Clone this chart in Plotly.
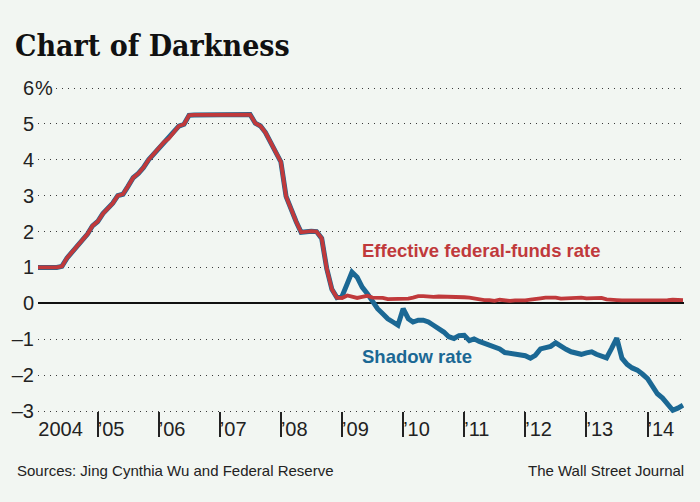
import pandas as pd
import plotly.graph_objects as go

# ---------------- data ----------------
months = pd.date_range("2004-01-01", periods=128, freq="MS")

fed_funds = [
    1.00, 1.01, 1.00, 1.00, 1.00, 1.03, 1.26, 1.43, 1.61, 1.76, 1.93, 2.16,  # 2004
    2.28, 2.50, 2.63, 2.79, 3.00, 3.04, 3.26, 3.50, 3.62, 3.78, 4.00, 4.16,  # 2005
    4.29, 4.49, 4.59, 4.79, 4.94, 4.99, 5.24, 5.25, 5.25, 5.25, 5.25, 5.24,  # 2006
    5.25, 5.26, 5.26, 5.25, 5.25, 5.25, 5.26, 5.02, 4.94, 4.76, 4.49, 4.24,  # 2007
    3.94, 2.98, 2.61, 2.28, 1.98, 2.00, 2.01, 2.00, 1.81, 0.97, 0.39, 0.16,  # 2008
    0.15, 0.22, 0.18, 0.15, 0.18, 0.21, 0.16, 0.16, 0.15, 0.12, 0.12, 0.12,  # 2009
    0.11, 0.13, 0.16, 0.20, 0.20, 0.18, 0.18, 0.19, 0.19, 0.19, 0.19, 0.18,  # 2010
    0.17, 0.16, 0.14, 0.10, 0.09, 0.09, 0.07, 0.10, 0.08, 0.07, 0.08, 0.07,  # 2011
    0.08, 0.10, 0.13, 0.14, 0.16, 0.16, 0.16, 0.13, 0.14, 0.16, 0.16, 0.16,  # 2012
    0.14, 0.15, 0.14, 0.15, 0.11, 0.09, 0.09, 0.08, 0.08, 0.09, 0.08, 0.09,  # 2013
    0.07, 0.07, 0.08, 0.09, 0.09, 0.10, 0.09, 0.09,                          # 2014
]

# shadow rate equals the funds rate until the zero bound is reached (end of 2008)
shadow_from_2009 = [
    0.20, 0.55, 0.87, 0.73, 0.45, 0.27, 0.04, -0.15, -0.29, -0.43, -0.52, -0.61,   # 2009
    -0.15, -0.43, -0.52, -0.47, -0.47, -0.52, -0.61, -0.70, -0.80, -0.93, -0.98, -0.90,  # 2010
    -0.89, -1.04, -0.99, -1.06, -1.12, -1.16, -1.22, -1.27, -1.37, -1.40, -1.42, -1.45,  # 2011
    -1.46, -1.53, -1.45, -1.27, -1.25, -1.20, -1.10, -1.20, -1.28, -1.35, -1.37, -1.42,  # 2012
    -1.38, -1.35, -1.42, -1.46, -1.52, -1.25, -0.97, -1.53, -1.70, -1.80, -1.86, -1.97,  # 2013
    -2.10, -2.32, -2.52, -2.64, -2.82, -2.98, -2.92, -2.84,                              # 2014
]
shadow_rate = fed_funds[:60] + shadow_from_2009

y_tickvals = [6, 5, 4, 3, 2, 1, 0, -1, -2, -3]
y_ticktext = ["6", "5", "4", "3", "2", "1", "0", "\u20131", "\u20132", "\u20133"]

x_label_vals = ["2004-01-12"] + ["%d-01-01" % y for y in range(2005, 2015)]
x_label_text = ["2004"] + ["\u2019%02d" % (y % 100) for y in range(2005, 2015)]
x_tick_vals = ["%d-01-01" % y for y in range(2005, 2015)]

# ---------------- style / layout constants ----------------
W, H = 700, 502
L, R, T = 36, 16, 84
plot_bottom = 437
paper_bottom = 446
BG = "#f2f6f2"
BLUE = "#1b6894"
RED = "#c0393b"
INK = "#222222"
SANS = "Liberation Sans, Arial, sans-serif"

ppu = (411 - 88) / 9.0
y_top = 6 + (88 - T) / ppu
y_bot = -3 - (plot_bottom - 411) / ppu
dom_bottom = (paper_bottom - plot_bottom) / (paper_bottom - T)


def px_x(x):
    return (x - L) / (W - L - R)


def px_y(y):
    return (paper_bottom - y) / (paper_bottom - T)


fig = go.Figure()

fig.add_trace(go.Scatter(
    x=months, y=shadow_rate, mode="lines",
    line=dict(color=BLUE, width=5), showlegend=False, hoverinfo="skip"))
fig.add_trace(go.Scatter(
    x=months, y=fed_funds, mode="lines",
    line=dict(color=RED, width=3.8), showlegend=False, hoverinfo="skip"))
# carrier trace for the tick-mark axis
fig.add_trace(go.Scatter(
    x=[months[0]], y=[None], xaxis="x2", yaxis="y", mode="lines",
    showlegend=False, hoverinfo="skip"))

x_range = ["2004-01-10", "2014-08-07"]

fig.update_layout(
    width=W, height=H,
    margin=dict(l=L, r=R, t=T, b=H - paper_bottom, pad=0),
    paper_bgcolor=BG, plot_bgcolor=BG,
    showlegend=False,
    xaxis=dict(
        range=x_range, anchor="free", position=0,
        tickmode="array", tickvals=x_label_vals, ticktext=x_label_text,
        ticks="", showgrid=False, zeroline=False, showline=False,
        ticklabelposition="inside right",
        tickfont=dict(family=SANS, size=20, color=INK),
    ),
    xaxis2=dict(
        range=x_range, overlaying="x", anchor="y", matches="x",
        tickmode="array", tickvals=x_tick_vals, showticklabels=False,
        ticks="inside", ticklen=25, tickwidth=1.6, tickcolor=INK,
        showgrid=False, zeroline=False, showline=False,
    ),
    yaxis=dict(
        range=[y_bot, y_top], domain=[dom_bottom, 1],
        tickmode="array", tickvals=y_tickvals, ticktext=y_ticktext,
        ticks="", ticklabelstandoff=3,
        tickfont=dict(family=SANS, size=20, color=INK),
        showgrid=True, gridcolor="#3a3a3a", gridwidth=1.4, griddash="1.4px,4.6px",
        zeroline=True, zerolinecolor="#111111", zerolinewidth=1.6,
        showline=False,
    ),
    annotations=[
        dict(text="%", xref="paper", yref="y", x=px_x(32), y=6, xanchor="left",
             yanchor="middle", showarrow=False, bgcolor=BG, borderpad=0,
             font=dict(family=SANS, size=20, color=INK)),
        dict(text="<b>Chart of Darkness</b>", xref="paper", yref="paper",
             x=px_x(11), y=px_y(46), xanchor="left", yanchor="middle", showarrow=False,
             font=dict(family="DejaVu Serif Condensed, DejaVu Serif, serif", size=30, color="#111111")),
        dict(text="<b>Effective federal-funds rate</b>", xref="paper", yref="paper",
             x=px_x(359), y=px_y(250), xanchor="left", yanchor="middle", showarrow=False,
             font=dict(family=SANS, size=18.5, color=RED)),
        dict(text="<b>Shadow rate</b>", xref="paper", yref="paper",
             x=px_x(359), y=px_y(356), xanchor="left", yanchor="middle", showarrow=False,
             font=dict(family=SANS, size=18.5, color=BLUE)),
        dict(text="Sources: Jing Cynthia Wu and Federal Reserve", xref="paper", yref="paper",
             x=px_x(13), y=px_y(470), xanchor="left", yanchor="middle", showarrow=False,
             font=dict(family=SANS, size=15, color=INK)),
        dict(text="The Wall Street Journal", xref="paper", yref="paper",
             x=px_x(686), y=px_y(470), xanchor="right", yanchor="middle", showarrow=False,
             font=dict(family=SANS, size=15, color=INK)),
    ],
)

fig.write_html("out.html", config={"displayModeBar": False},
               post_script="document.body.style.margin='0px';")
